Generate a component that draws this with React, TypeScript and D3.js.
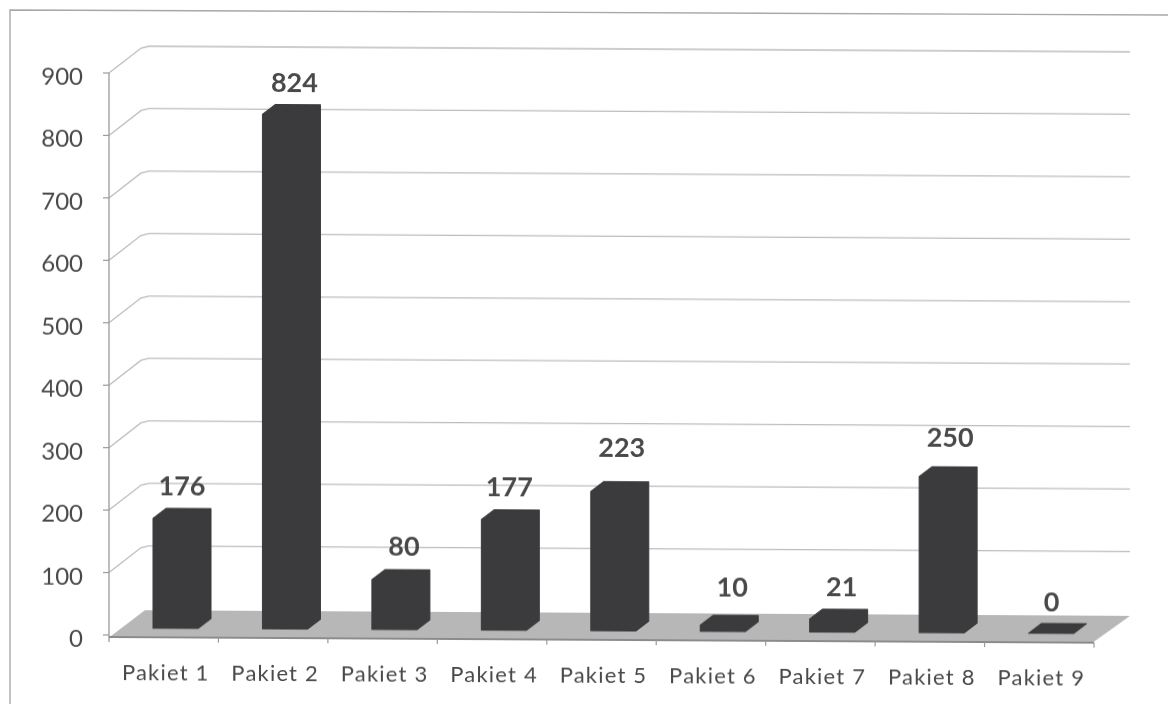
import { useEffect, useRef } from "react"
import * as d3 from "d3"

const categories = ["Pakiet 1", "Pakiet 2", "Pakiet 3", "Pakiet 4", "Pakiet 5", "Pakiet 6", "Pakiet 7", "Pakiet 8", "Pakiet 9"]
const values = [176, 824, 80, 177, 223, 10, 21, 250, 0]
const yTicks = [0, 100, 200, 300, 400, 500, 600, 700, 800, 900]

// the value labels were dragged around by hand in the original
const labelNudgeX = [0, 3, 3, -1, 2, 3, 3, 2, -6]
const labelNudgeY = [-2, -1, -3, -2, -14, -8, -2, -9, -1]

const width = 1168
const height = 704
const fontFamily = "Lato, 'Open Sans', sans-serif"

export default function App() {
  const svgRef = useRef<SVGSVGElement>(null)

  useEffect(() => {
    const svg = d3.select(svgRef.current)
    svg.selectAll("*").remove()

    // a touch of blur for the scanned look
    svg.append("defs")
      .append("filter")
      .attr("id", "scan")
      .append("feGaussianBlur")
      .attr("stdDeviation", 0.45)

    const x = d3.scaleBand<string>().domain(categories).range([109, 1094])
    const y = d3.scaleLinear().domain([0, 900]).range([635, 73])

    // page frame of the scan
    svg.append("path")
      .attr("d", d3.line()([[1168, 15], [10, 10], [10, 704]]))
      .attr("fill", "none")
      .attr("stroke", "#a8a8a8")
      .attr("stroke-width", 1.4)
      .attr("filter", "url(#scan)")

    // the scan runs slightly downhill but verticals stay upright, so skew instead of rotate
    const g = svg.append("g")
      .attr("transform", "translate(109 635) skewY(0.33) translate(-109 -635)")
      .attr("filter", "url(#scan)")

    const wallDx = 36
    const wallDy = -27
    const floorDy = -25
    const barDx = 13
    const barDy = -10
    const barW = 45
    const baseLift = 7

    // floor
    const floor = d3.path()
    floor.moveTo(x.range()[0] + 2, y(0) + 1)
    floor.lineTo(x.range()[1], y(0) + 1)
    floor.lineTo(x.range()[1] + wallDx, y(0) + floorDy)
    floor.lineTo(x.range()[0] + wallDx, y(0) + floorDy)
    floor.closePath()
    g.append("path").attr("d", floor.toString()).attr("fill", "#b7b7b7")

    // gridlines, folded up the side wall
    const line = d3.line<[number, number]>()
    g.selectAll(".grid")
      .data(yTicks.filter(t => t > 0))
      .join("path")
      .attr("class", "grid")
      .attr("fill", "none")
      .attr("stroke", "#bdbdbd")
      .attr("stroke-width", 1.3)
      .attr("d", t => line([
        [x.range()[0], y(t)],
        [x.range()[0] + wallDx - 4, y(t) + wallDy + 2],
        [x.range()[0] + wallDx + 4, y(t) + wallDy],
        [x.range()[1] + wallDx, y(t) + wallDy],
      ]))

    // axes
    g.append("line")
      .attr("x1", x.range()[0]).attr("x2", x.range()[0])
      .attr("y1", y(900)).attr("y2", y(0) + 7)
      .attr("stroke", "#9a9a9a").attr("stroke-width", 1.3)
    g.append("line")
      .attr("x1", x.range()[0]).attr("x2", x.range()[1])
      .attr("y1", y(0) + 2).attr("y2", y(0) + 2)
      .attr("stroke", "#8b8b8b").attr("stroke-width", 2)

    g.selectAll(".ytick")
      .data(yTicks)
      .join("line")
      .attr("class", "ytick")
      .attr("x1", x.range()[0] - 6).attr("x2", x.range()[0])
      .attr("y1", t => y(t)).attr("y2", t => y(t))
      .attr("stroke", "#9a9a9a").attr("stroke-width", 1.2)

    g.selectAll(".xtick")
      .data(categories)
      .join("line")
      .attr("class", "xtick")
      .attr("x1", c => x(c)! + x.bandwidth()).attr("x2", c => x(c)! + x.bandwidth())
      .attr("y1", y(0) + 2).attr("y2", y(0) + 7)
      .attr("stroke", "#9a9a9a").attr("stroke-width", 1.2)

    // bars
    const barPath = (c: string, v: number) => {
      const left = x(c)! + 44
      const bottom = y(0) - baseLift
      const top = y(v) - baseLift
      const p = d3.path()
      p.moveTo(left, bottom)
      p.lineTo(left, top)
      p.lineTo(left + barDx, top + barDy)
      p.lineTo(left + barW + barDx, top + barDy)
      p.lineTo(left + barW + barDx, bottom + barDy)
      p.lineTo(left + barW, bottom)
      p.closePath()
      return p.toString()
    }

    g.selectAll(".bar")
      .data(categories)
      .join("path")
      .attr("class", "bar")
      .attr("d", (c, i) => barPath(c, values[i]))
      .attr("fill", "#3b3b3d")
      .attr("stroke", "#3b3b3d")
      .attr("stroke-linejoin", "round")

    g.selectAll(".value")
      .data(categories)
      .join("text")
      .attr("class", "value")
      .attr("x", (c, i) => x(c)! + 44 + (barW + barDx) / 2 + labelNudgeX[i])
      .attr("y", (c, i) => y(values[i]) - baseLift + barDy - 11 + labelNudgeY[i])
      .attr("text-anchor", "middle")
      .attr("font-family", fontFamily)
      .attr("font-weight", 700)
      .attr("font-size", 27)
      .attr("fill", "#4a4a4a")
      .text((c, i) => values[i])

    g.selectAll(".ylabel")
      .data(yTicks)
      .join("text")
      .attr("class", "ylabel")
      .attr("x", x.range()[0] - 26)
      .attr("y", t => y(t) + 12)
      .attr("text-anchor", "end")
      .attr("font-family", fontFamily)
      .attr("font-size", 24)
      .attr("fill", "#4a4a4a")
      .text(t => t)

    g.selectAll(".xlabel")
      .data(categories)
      .join("text")
      .attr("class", "xlabel")
      .attr("x", c => x(c)! + x.bandwidth() / 2 + 2)
      .attr("y", 680)
      .attr("text-anchor", "middle")
      .attr("font-family", fontFamily)
      .attr("font-size", 22)
      .attr("letter-spacing", 1.2)
      .attr("fill", "#4a4a4a")
      .text(c => c)
  }, [])

  return (
    <svg
      ref={svgRef}
      width={width}
      height={height}
      style={{ position: "absolute", left: 0, top: 0, background: "#fff" }}
    />
  )
}
